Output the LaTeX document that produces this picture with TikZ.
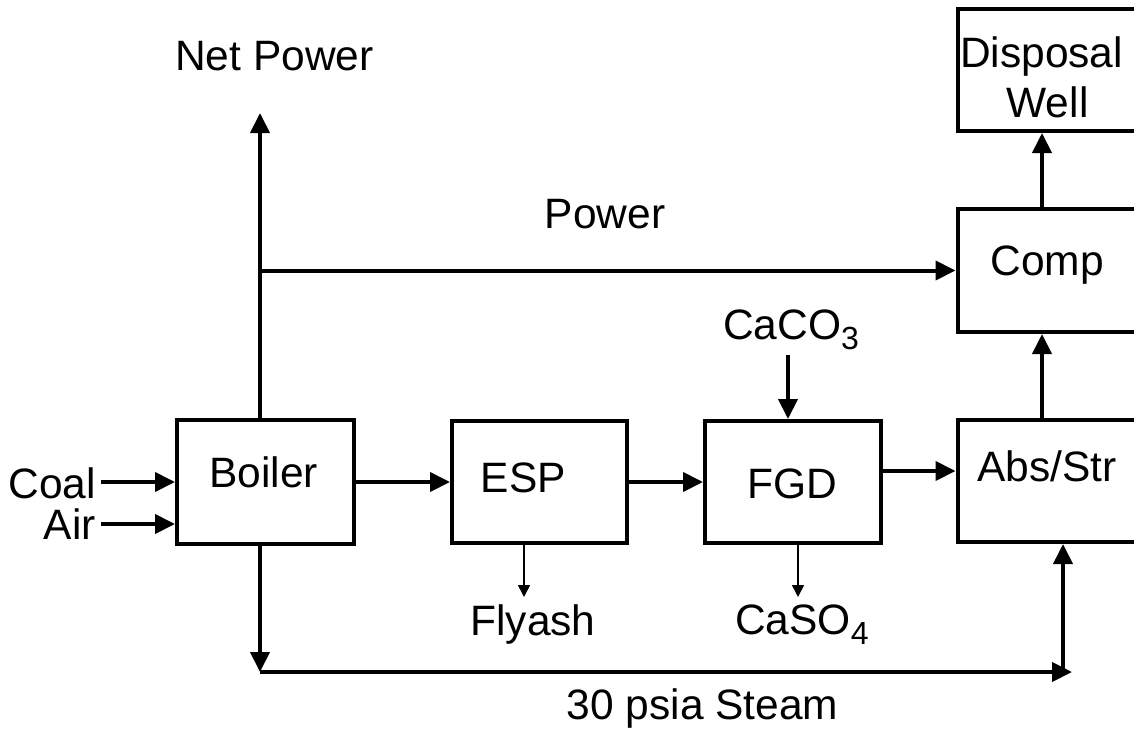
\documentclass[tikz,border=0pt]{standalone}
\usepackage{fontspec}
\setmainfont{Liberation Sans}
\usetikzlibrary{arrows.meta}
\newcommand\subs[1]{\raisebox{-10.5pt}{\fontsize{32}{32}\selectfont #1}}
\begin{document}
\begin{tikzpicture}[x=1pt,y=-1pt,
  box/.style={draw, line width=4pt, rectangle, inner sep=0pt},
  lbl/.style={inner sep=0pt, anchor=base, font=\fontsize{42.5}{48}\selectfont},
  arr/.style={line width=4pt, -{Triangle[length=20pt,width=19pt]}},
  thinarr/.style={line width=1.6pt, -{Triangle[length=12pt,width=12pt]}}]
\useasboundingbox (0,0) rectangle (1134,732);
\clip (0,0) rectangle (1134,732);
% boxes
\node[box, minimum width=177pt, minimum height=124pt] (boiler) at (265.5,482) {};
\node[box, minimum width=175pt, minimum height=122pt] (esp) at (539.5,482) {};
\node[box, minimum width=176pt, minimum height=122pt] (fgd) at (793,482) {};
\node[box, minimum width=187pt, minimum height=122pt] (abs) at (1051,481) {};
\node[box, minimum width=187pt, minimum height=123pt] (comp) at (1051,270.5) {};
\node[box, minimum width=187pt, minimum height=122pt] (disp) at (1051,70) {};
% labels
\node[lbl] (tboiler) at (263.5,487) {Boiler};
\node[lbl] (tesp) at (523.5,492) {ESP};
\node[lbl] (tfgd) at (792.5,498) {FGD};
\node[lbl] (tabs) at (1047,481) {Abs/Str};
\node[lbl] (tcomp) at (1047,275) {Comp};
\node[lbl] (tdisp) at (1041.5,67) {Disposal};
\node[lbl] (twell) at (1047.5,117) {Well};
\node[lbl] (tnet) at (274.5,70) {Net Power};
\node[lbl] (tpow) at (605,228) {Power};
\node[lbl] (tcaco) at (791,339) {CaCO\subs{3}};
\node[lbl] (tcaso) at (802,634) {CaSO\subs{4}};
\node[lbl] (tfly) at (533,635) {Flyash};
\node[lbl] (tsteam) at (702.5,719) {30 psia Steam};
\node[lbl, anchor=base east] (tcoal) at (96,498) {Coal};
\node[lbl, anchor=base east] (tair) at (96,539) {Air};
% coordinates
\coordinate (coalst) at (101,482);
\coordinate (airst) at (101,524);
\coordinate (fa) at (0,471);
\coordinate (np) at (260,113);
\coordinate (cx) at (1042,0);
\coordinate (caco) at (788,355);
\coordinate (st1) at (260,672);
\coordinate (st2) at (1072,672);
\coordinate (stv) at (1063,672);
\coordinate (flyend) at (524,597);
\coordinate (casoend) at (798,597);
% connectors
\draw[arr] (coalst) -- (coalst -| boiler.west);
\draw[arr] (airst) -- (airst -| boiler.west);
\draw[arr] (boiler.east) -- (esp.west);
\draw[arr] (esp.east) -- (fgd.west);
\draw[arr] (fgd.east |- fa) -- (abs.west |- fa);
\draw[arr] (boiler.north -| np) -- (np);
\draw[arr] (np |- comp.west) -- (comp.west);
\draw[arr] (comp.north -| cx) -- (disp.south -| cx);
\draw[arr] (abs.north -| cx) -- (comp.south -| cx);
\draw[arr] (caco) -- (fgd.north -| caco);
\draw[arr] (boiler.south -| np) -- (st1);
\draw[arr] (st1) -- (st2);
\draw[arr] (stv) -- (abs.south -| stv);
\draw[thinarr] (esp.south -| flyend) -- (flyend);
\draw[thinarr] (fgd.south -| casoend) -- (casoend);
\end{tikzpicture}
\end{document}
